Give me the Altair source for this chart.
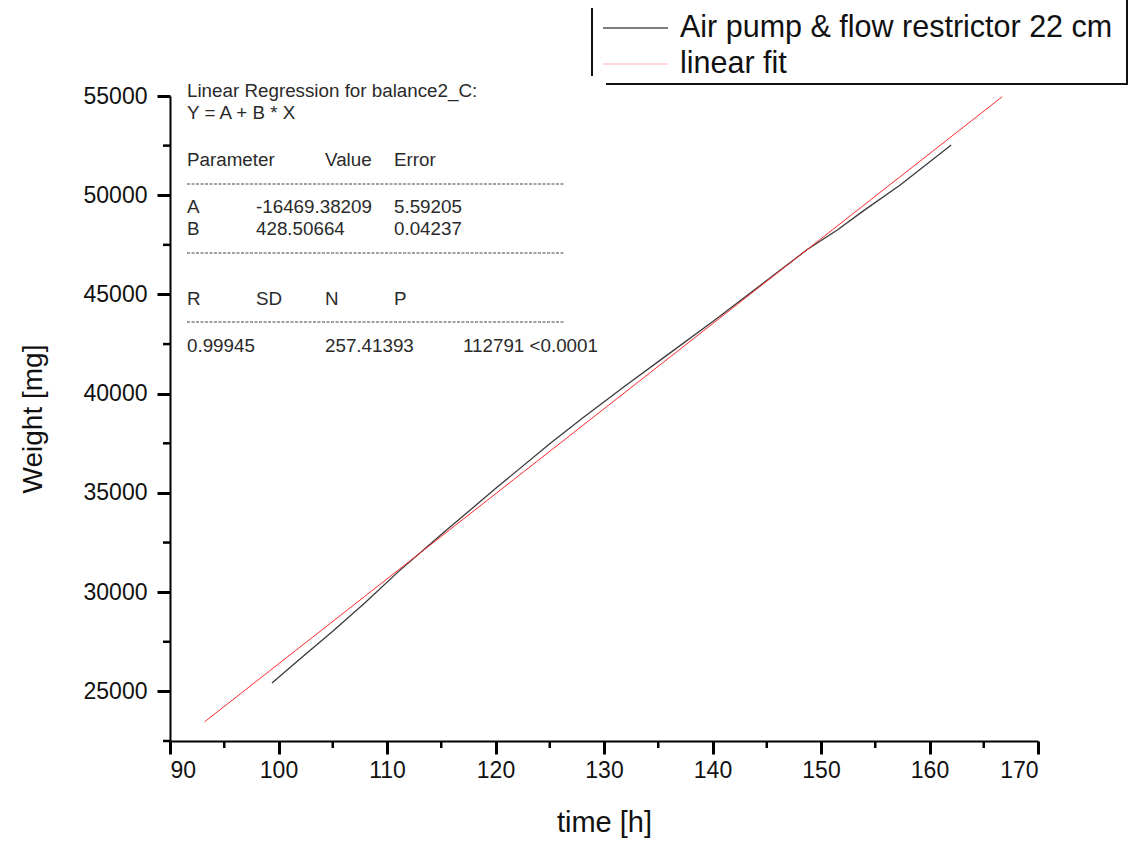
import altair as alt
import pandas as pd

# ---- data ----
time_h = [99.4, 102, 105, 108, 111, 115, 120, 125, 128, 132, 136, 140, 144, 148.7, 151.5, 154, 157.3, 162.0]
weight_mg = [25420, 26650, 28030, 29480, 31010, 32900, 35220, 37480, 38760, 40410, 42020, 43620,
             45290, 47250, 48250, 49250, 50520, 52530]
fit_time = [93.2, 166.7]
fit_weight = [23470, 54963]

x_major = [90, 100, 110, 120, 130, 140, 150, 160, 170]
x_minor = [95, 105, 115, 125, 135, 145, 155, 165]
y_major = [25000, 30000, 35000, 40000, 45000, 50000, 55000]
y_minor = [22500, 27500, 32500, 37500, 42500, 47500, 52500]

legend_labels = ["Air pump & flow restrictor 22 cm", "linear fit"]

ann_rows = [
    ["Linear Regression for balance2_C:"],
    ["Y = A + B * X"],
    ["Parameter", "Value", "Error"],
    ["A", "-16469.38209", "5.59205"],
    ["B", "428.50664", "0.04237"],
    ["R", "SD", "N", "P"],
    ["0.99945", "257.41393", "112791 <0.0001"],
]

# ---- layout (pixels) ----
W, H = 868, 645
FONT = "Liberation Sans"
xs = alt.Scale(domain=[90, 170], nice=False, zero=False)
ys = alt.Scale(domain=[22500, 55000], nice=False, zero=False)

data_df = pd.DataFrame({"t": time_h, "w": weight_mg})
fit_df = pd.DataFrame({"t": fit_time, "w": fit_weight})

base_line = alt.Chart(data_df).mark_line(color="#3a3a3a", strokeWidth=1.3).encode(
    x=alt.X("t:Q", scale=xs, axis=alt.Axis(
        values=x_major, title="time [h]", grid=False, domainColor="black", domainWidth=2,
        tickColor="black", tickWidth=3, tickSize=13, labelFontSize=23, labelFont=FONT,
        labelColor="#111", labelPadding=5, titleFont=FONT, titleFontSize=29,
        titleFontWeight="normal", titleColor="#111", titleY=81, titleBaseline="middle")),
    y=alt.Y("w:Q", scale=ys, axis=alt.Axis(
        values=y_major, title="Weight [mg]", grid=False, domainColor="black", domainWidth=2,
        tickColor="black", tickWidth=3, tickSize=13, labelFontSize=23, labelFont=FONT,
        labelColor="#111", labelPadding=10, format="d", titleFont=FONT, titleFontSize=28,
        titleFontWeight="normal", titleColor="#111", titleX=-137, titleBaseline="middle")),
)

fit_line = alt.Chart(fit_df).mark_line(color="#ff2a2a", strokeWidth=1).encode(
    x=alt.X("t:Q", scale=xs, title="time [h]"),
    y=alt.Y("w:Q", scale=ys, title="Weight [mg]"),
)

xminor_rules = alt.Chart(pd.DataFrame({"t": x_minor})).mark_rule(color="black", strokeWidth=2.5).encode(
    x=alt.X("t:Q", scale=xs, title="time [h]"),
    y=alt.value(H), y2=alt.value(H + 7),
)
yminor_rules = alt.Chart(pd.DataFrame({"w": y_minor})).mark_rule(color="black", strokeWidth=2.5).encode(
    y=alt.Y("w:Q", scale=ys, title="Weight [mg]"),
    x=alt.value(-7), x2=alt.value(0),
)

layers = [base_line, fit_line, xminor_rules, yminor_rules]

# ---- regression annotation ----
row_y = [-5, 17, 64, 111, 133, 203, 250]
col_x = {
    0: [17],
    1: [17],
    2: [17, 155, 224],
    3: [17, 86, 224],
    4: [17, 86, 224],
    5: [17, 86, 155, 224],
    6: [17, 155, 293],
}
for i, row in enumerate(ann_rows):
    for j, txt in enumerate(row):
        layers.append(
            alt.Chart(pd.DataFrame({"s": [txt]})).mark_text(
                align="left", baseline="middle", font=FONT, fontSize=18.8, color="#2a2a2a"
            ).encode(text="s:N", x=alt.value(col_x[i][j]), y=alt.value(row_y[i]))
        )

for yy in [88, 157, 226]:
    layers.append(
        alt.Chart(pd.DataFrame({"k": [0]})).mark_rule(
            color="#444444", strokeWidth=1.2, strokeDash=[3, 1.5]
        ).encode(x=alt.value(17), x2=alt.value(395), y=alt.value(yy))
    )

# ---- legend box (outside the plot, top right) ----
leg_colors = ["#555555", "#ffcccc"]
leg_y = [-68, -32]
for k, lab in enumerate(legend_labels):
    layers.append(
        alt.Chart(pd.DataFrame({"k": [0]})).mark_rule(color=leg_colors[k], strokeWidth=1.5).encode(
            x=alt.value(433), x2=alt.value(498), y=alt.value(leg_y[k])
        )
    )
    layers.append(
        alt.Chart(pd.DataFrame({"s": [lab]})).mark_text(
            align="left", baseline="middle", font=FONT, fontSize=30.5, color="#111"
        ).encode(text="s:N", x=alt.value(510), y=alt.value(leg_y[k]))
    )

frame = [
    (422, 422, -88, -20),
    (436, 958, -12, -12),
    (957, 957, -96, -12),
]
for (x1, x2, y1, y2) in frame:
    layers.append(
        alt.Chart(pd.DataFrame({"k": [0]})).mark_rule(color="#111", strokeWidth=2).encode(
            x=alt.value(x1), x2=alt.value(x2), y=alt.value(y1), y2=alt.value(y2)
        )
    )

chart = alt.layer(*layers).properties(
    width=W, height=H,
    autosize=alt.AutoSizeParams(type="none"),
    padding={"left": 170, "top": 96, "right": 92, "bottom": 100},
    background="white",
).configure_view(strokeWidth=0)

chart.save("out.html", embed_options={"renderer": "svg", "actions": False})
